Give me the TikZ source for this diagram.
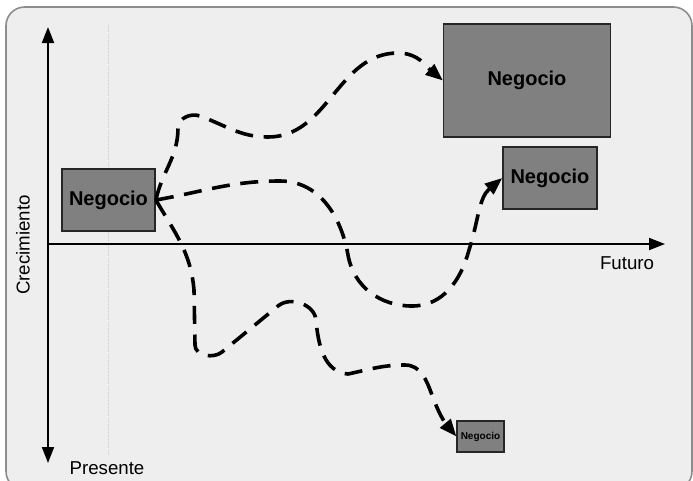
\documentclass[tikz,border=0pt]{standalone}
\usepackage{fontspec}
\setmainfont{Liberation Sans}
\usetikzlibrary{arrows.meta}

\definecolor{fondo}{HTML}{EEEEEE}
\definecolor{borde}{HTML}{8C8C8C}
\definecolor{caja}{HTML}{808080}

\begin{document}
\begin{tikzpicture}[x=0.75pt, y=-0.75pt,
    negocio/.style={draw=black!85, fill=caja, line width=1.1pt, inner sep=0pt,
        font=\bfseries\fontsize{15}{17}\selectfont},
    flujo/.style={line width=2.7pt, dash pattern=on 13.5pt off 8pt,
        -{Triangle[length=13pt, width=10pt]}},
    eje/.style={line width=1.4pt},
    punta/.tip={Triangle[length=12pt, width=9pt]},
    etiqueta/.style={font=\fontsize{14}{16}\selectfont}]
    \useasboundingbox (0,0) rectangle (693,480);
    \draw[borde, fill=fondo, line width=1.2pt, rounded corners=14pt] (6,7) rectangle (692,490);
    \draw[black!20, densely dotted, line width=0.6pt] (108,25) -- (108,455);

    % ejes
    \coordinate (origen) at (48,244);
    \coordinate (arriba) at (48,27);
    \coordinate (abajo) at (48,463);
    \coordinate (derecha) at (665,244);
    \draw[eje, punta-punta] (arriba) -- (abajo);
    \draw[eje, -punta] (origen) -- (derecha);
    \node[etiqueta, rotate=90] (crec) at (23,245) {Crecimiento};
    \node[etiqueta] (futuro) at (627,263) {Futuro};
    \node[etiqueta] (presente) at (107,468) {Presente};

    % negocios
    \node[negocio, minimum width=70pt, minimum height=46.5pt] (base) at (108.5,200) {Negocio};
    \node[negocio, minimum width=125pt, minimum height=85pt] (grande) at (527,80.5) {Negocio};
    \node[negocio, minimum width=70.5pt, minimum height=46.5pt] (mediano) at (550,178) {Negocio};
    \node[negocio, minimum width=35pt, minimum height=23pt,
        font=\bfseries\fontsize{7.5}{8}\selectfont] (pequeno) at (480.5,436.5) {Negocio};

    % caminos
    \draw[flujo] (base.east) to[out=78,in=-90] (178,128) to[out=90,in=160] (200,116)
        to[out=-20,in=180] (268,137) to[out=0,in=180] (398,53) to[out=0,in=140] (grande.west);
    \draw[flujo] (base.east) to[out=10,in=180] (280,181) to[out=0,in=100] (348,255)
        to[out=-80,in=180] (412,306) to[out=0,in=-105] (469,250) to[out=72,in=-140] (mediano.west);
    \draw[flujo] (base.east) to[out=-60,in=95] (194,290) -- (195,345) to[out=-90,in=-140] (222,352)
        -- (278,306) to[out=40,in=95] (316,320) to[out=-85,in=175] (348,374)
        to[out=12,in=180] (405,365) to[out=0,in=110] (432,395) to[out=-70,in=130] (pequeno.west);
\end{tikzpicture}
\end{document}
